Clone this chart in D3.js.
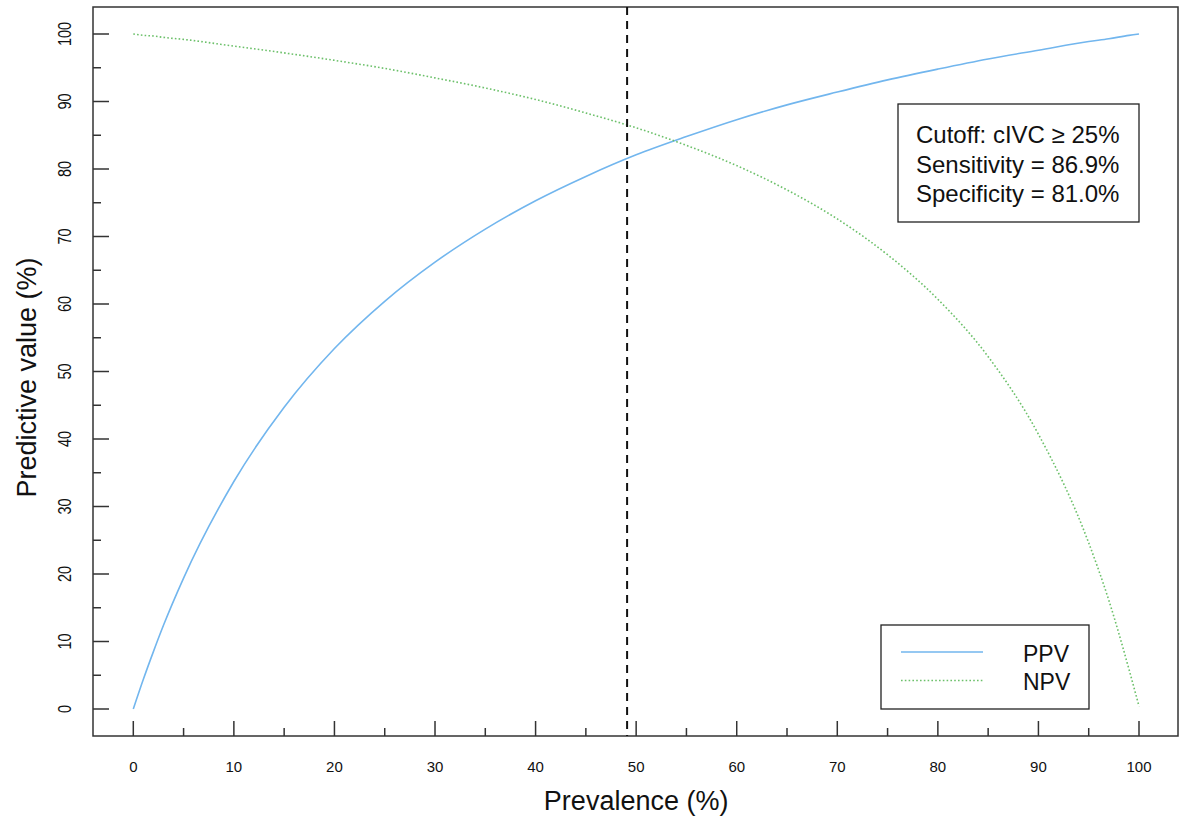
<!DOCTYPE html>
<html>
<head>
<meta charset="utf-8">
<script src="https://cdn.jsdelivr.net/npm/d3@7"></script>
<style>
  body { margin: 0; background: #fff; }
  text { font-family: "Liberation Sans", Arial, sans-serif; fill: #111; }
</style>
</head>
<body>
<div id="chart"></div>
<script>
// Values (prevalence in %, predictive value in %)
const prevalence = [0, 1, 2, 3, 5, 10, 15, 20, 25, 30, 35, 40, 45, 50, 55, 60, 65, 70, 75, 80, 85, 90, 95, 97, 99, 100];
const ppv = [0, 4.4, 8.5, 12.4, 19.4, 33.7, 44.7, 53.4, 60.4, 66.2, 71.1, 75.3, 78.9, 82.1, 84.8, 87.3, 89.5, 91.4, 93.2, 94.8, 96.3, 97.6, 98.9, 99.3, 99.8, 100];
const npv = [100, 99.8, 99.7, 99.5, 99.2, 98.2, 97.2, 96.1, 94.9, 93.5, 92.0, 90.3, 88.3, 86.1, 83.5, 80.5, 76.9, 72.6, 67.3, 60.7, 52.2, 40.7, 24.6, 16.1, 5.9, 0.4];
const xTicks = [0, 10, 20, 30, 40, 50, 60, 70, 80, 90, 100];
const yTicks = [0, 10, 20, 30, 40, 50, 60, 70, 80, 90, 100];
const cutoffPrevalence = 49.1;
const infoLines = ["Cutoff: cIVC \u2265 25%", "Sensitivity = 86.9%", "Specificity = 81.0%"];
const legendItems = [
  { label: "PPV", color: "#72b6ee", dash: null },
  { label: "NPV", color: "#6cc06a", dash: "1.6,2.2" }
];

const width = 1180, height = 818;
const box = { left: 93, top: 7, right: 1178, bottom: 736 };

const svg = d3.select("#chart").append("svg")
  .attr("width", width)
  .attr("height", height);

const x = d3.scaleLinear().domain([0, 100]).range([133.3, 1139]);
const y = d3.scaleLinear().domain([0, 100]).range([709, 34]);

const axisColor = "#333";

// plot frame
svg.append("rect")
  .attr("x", box.left).attr("y", box.top)
  .attr("width", box.right - box.left).attr("height", box.bottom - box.top)
  .attr("fill", "none").attr("stroke", axisColor).attr("stroke-width", 1.5);

// x axis ticks (inward), major every 10, minor every 5
const xMinor = d3.range(5, 100, 10);
svg.append("g").selectAll("line.major").data(xTicks).join("line")
  .attr("x1", d => x(d)).attr("x2", d => x(d))
  .attr("y1", box.bottom).attr("y2", box.bottom - 15)
  .attr("stroke", axisColor).attr("stroke-width", 1.5);
svg.append("g").selectAll("line.minor").data(xMinor).join("line")
  .attr("x1", d => x(d)).attr("x2", d => x(d))
  .attr("y1", box.bottom).attr("y2", box.bottom - 8)
  .attr("stroke", axisColor).attr("stroke-width", 1.5);
svg.append("g").selectAll("text").data(xTicks).join("text")
  .attr("x", d => x(d)).attr("y", 772)
  .attr("text-anchor", "middle")
  .style("font-size", "15px")
  .text(d => d);

// y axis ticks
const yMinor = d3.range(5, 100, 10);
svg.append("g").selectAll("line.major").data(yTicks).join("line")
  .attr("x1", box.left).attr("x2", box.left + 16)
  .attr("y1", d => y(d)).attr("y2", d => y(d))
  .attr("stroke", axisColor).attr("stroke-width", 1.5);
svg.append("g").selectAll("line.minor").data(yMinor).join("line")
  .attr("x1", box.left).attr("x2", box.left + 8)
  .attr("y1", d => y(d)).attr("y2", d => y(d))
  .attr("stroke", axisColor).attr("stroke-width", 1.5);
// the rotated labels look a little stretched across in the reference
svg.append("g").selectAll("text").data(yTicks).join("text")
  .attr("transform", d => `translate(71, ${y(d)}) rotate(-90) scale(1, 1.25)`)
  .attr("text-anchor", "middle")
  .style("font-size", "14.5px")
  .text(d => d);

// axis titles
svg.append("text")
  .attr("x", (x(0) + x(100)) / 2).attr("y", 810)
  .attr("text-anchor", "middle")
  .style("font-size", "27px")
  .text("Prevalence (%)");
svg.append("text")
  .attr("transform", `translate(36, ${(y(0) + y(100)) / 2 + 6}) rotate(-90)`)
  .attr("text-anchor", "middle")
  .style("font-size", "27px")
  .text("Predictive value (%)");

// curves
const line = d3.line().curve(d3.curveMonotoneX);
svg.append("path")
  .attr("d", line(prevalence.map((p, i) => [x(p), y(ppv[i])])))
  .attr("fill", "none").attr("stroke", legendItems[0].color).attr("stroke-width", 1.6);
svg.append("path")
  .attr("d", line(prevalence.map((p, i) => [x(p), y(npv[i])])))
  .attr("fill", "none").attr("stroke", legendItems[1].color).attr("stroke-width", 1.6)
  .attr("stroke-dasharray", legendItems[1].dash);

// cutoff line
svg.append("line")
  .attr("x1", x(cutoffPrevalence)).attr("x2", x(cutoffPrevalence))
  .attr("y1", box.top).attr("y2", box.bottom)
  .attr("stroke", "#111").attr("stroke-width", 2)
  .attr("stroke-dasharray", "8,6");

// info box
const info = svg.append("g");
info.append("rect")
  .attr("x", 898).attr("y", 104).attr("width", 241).attr("height", 118)
  .attr("fill", "#fff").attr("stroke", "#222").attr("stroke-width", 1.3);
info.selectAll("text").data(infoLines).join("text")
  .attr("x", 916).attr("y", (d, i) => 143 + i * 29.5)
  .style("font-size", "24px")
  .text(d => d);

// legend
const legend = svg.append("g");
legend.append("rect")
  .attr("x", 881).attr("y", 625).attr("width", 208).attr("height", 84)
  .attr("fill", "#fff").attr("stroke", "#222").attr("stroke-width", 1.3);
const rows = legend.selectAll("g").data(legendItems).join("g")
  .attr("transform", (d, i) => `translate(0, ${652 + i * 28.5})`);
rows.append("line")
  .attr("x1", 901).attr("x2", 983)
  .attr("stroke", d => d.color).attr("stroke-width", 1.6)
  .attr("stroke-dasharray", d => d.dash);
rows.append("text")
  .attr("x", 1023).attr("y", 9.5)
  .style("font-size", "23px")
  .text(d => d.label);
</script>
</body>
</html>
